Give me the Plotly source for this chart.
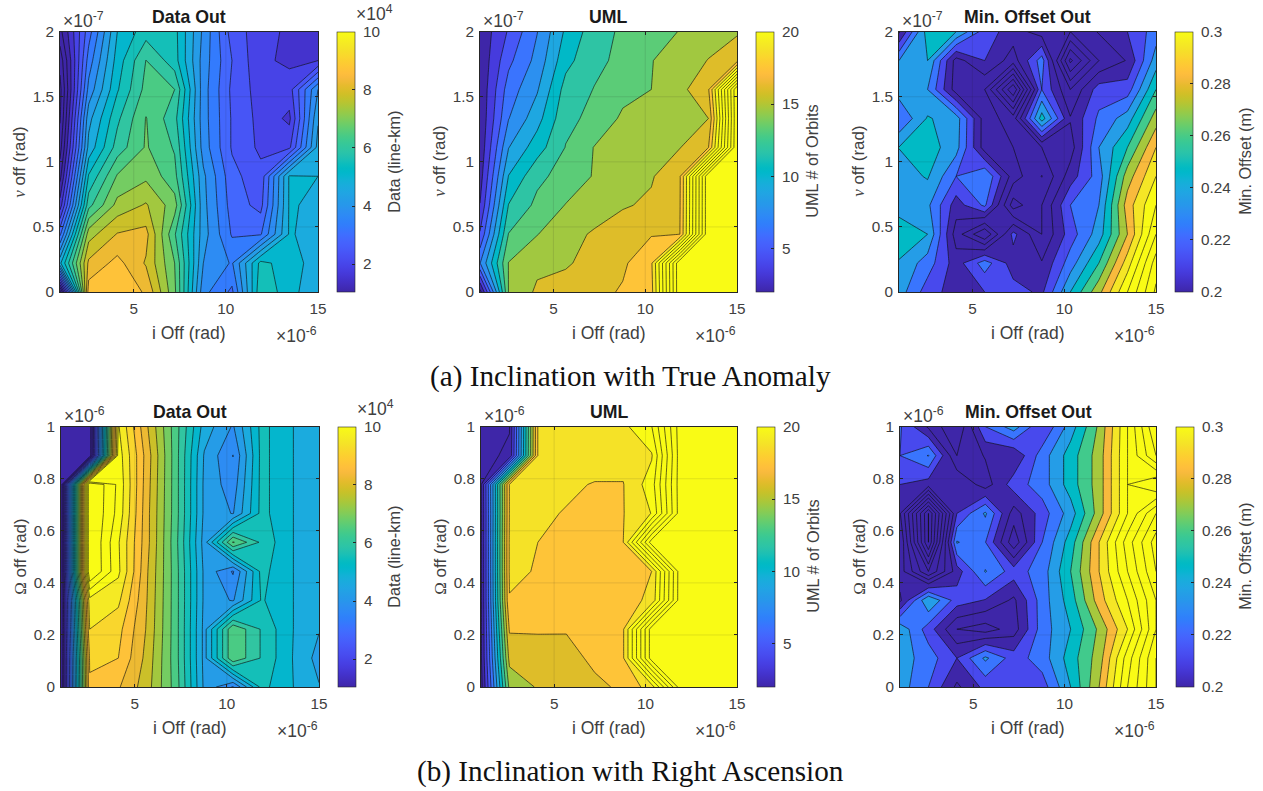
import plotly.graph_objects as go

# ---------- data (axes in the multiples shown on the chart) ----------
I_OFF = [1, 2.556, 4.111, 5.667, 7.222, 8.778, 10.333, 11.889, 13.444, 15]
NU_OFF = [0, 0.222, 0.444, 0.667, 0.889, 1.111, 1.333, 1.556, 1.778, 2]
RAAN_OFF = [0, 0.111, 0.222, 0.333, 0.444, 0.556, 0.667, 0.778, 0.889, 1]

DATA_NU = [
    [0.3, 8.95, 9.0, 8.65, 7.0, 3.9, 3.2, 5.9, 5.3, 4.7],
    [5.0, 8.35, 8.85, 8.2, 6.9, 4.2, 3.7, 5.7, 5.3, 4.9],
    [3.2, 7.6, 8.28, 8.4, 6.5, 4.4, 3.25, 3.25, 5.15, 4.9],
    [1.7, 6.3, 7.5, 7.85, 7.1, 4.35, 3.1, 2.7, 5.15, 5.0],
    [0.9, 5.6, 6.95, 7.25, 6.6, 4.3, 3.0, 2.55, 5.15, 5.1],
    [0.4, 4.8, 6.2, 6.95, 6.4, 4.0, 2.8, 2.3, 2.3, 4.8],
    [0.1, 4.5, 5.9, 6.92, 6.15, 3.95, 2.8, 2.25, 1.85, 4.6],
    [0.0, 3.9, 5.5, 6.6, 6.45, 3.95, 2.75, 2.2, 2.2, 4.2],
    [0.3, 3.5, 5.3, 6.46, 5.75, 4.0, 2.85, 2.05, 1.85, 1.95],
    [0.9, 3.1, 5.1, 5.8, 5.7, 4.1, 2.65, 2.15, 1.85, 1.85],
]
UML_NU = [
    [1.5, 14.7, 16.3, 16.6, 17.0, 17.6, 18.3, 30, 30, 30],
    [7.6, 14.7, 15.7, 15.9, 16.5, 17.2, 18.6, 30, 30, 30],
    [5.0, 13.3, 14.6, 15.6, 16.2, 16.9, 17.35, 17.45, 30, 30],
    [3.5, 11.9, 13.6, 14.7, 15.4, 15.9, 16.3, 17.35, 30, 30],
    [2.8, 10.5, 12.9, 13.8, 14.75, 15.3, 15.9, 17.3, 30, 30],
    [2.4, 9.0, 11.2, 13.3, 14.7, 15.0, 15.6, 16.0, 17.4, 30],
    [2.3, 7.6, 9.9, 12.9, 13.6, 14.9, 15.2, 15.9, 16.05, 30],
    [2.3, 6.9, 8.9, 12.4, 13.3, 14.2, 14.65, 15.6, 17.3, 30],
    [2.3, 5.9, 8.1, 11.4, 12.9, 13.6, 14.6, 15.3, 16.1, 16.9],
    [2.4, 5.0, 7.6, 10.7, 12.6, 13.5, 14.1, 14.7, 15.4, 15.9],
]
OFFSET_NU = [
    [.2413, .2177, .2059, .2118, .2165, .2094, .2472, .2791, .318, .3558],
    [.246, .2295, .2059, .2295, .2059, .201, .2295, .259, .3003, .3475],
    [.2555, .2472, .1941, .165, .2153, .1882, .2177, .2413, .2826, .3298],
    [.2413, .238, .2059, .226, .1705, .1882, .2236, .2354, .2885, .318],
    [.2413, .2484, .2236, .2354, .1941, .176, .2059, .2295, .2767, .3062],
    [.2475, .2531, .24, .1941, .1882, .1882, .1941, .2354, .259, .2944],
    [.224, .2484, .2413, .1941, .1823, .2531, .201, .226, .2413, .2767],
    [.2413, .2354, .1941, .1882, .13, .2236, .1882, .2177, .2177, .259],
    [.2354, .2472, .195, .2118, .1941, .2295, .15, .1882, .201, .2413],
    [.198, .2531, .2472, .2177, .2059, .1941, .1882, .201, .2118, .2295],
]
DATA_RAAN = [
    [.2, 9.1, 8.75, 8.0, 6.7, 4.55, 3.7, 5.7, 5.15, 4.68],
    [.2, 9.2, 9.15, 8.1, 6.65, 4.5, 6.85, 5.95, 5.15, 4.48],
    [.2, 9.6, 9.3, 8.2, 6.65, 4.5, 6.85, 5.95, 5.15, 4.68],
    [.2, 9.9, 9.7, 8.25, 6.65, 4.55, 4.15, 5.6, 5.15, 4.68],
    [.2, 11.5, 10.15, 8.3, 6.65, 4.55, 3.7, 5.7, 5.15, 4.68],
    [.2, 11.5, 10.1, 8.4, 6.6, 4.45, 6.95, 5.9, 5.15, 4.68],
    [.2, 11.5, 10.35, 8.4, 6.65, 4.55, 4.17, 5.7, 5.15, 4.68],
    [.2, 11.5, 10.4, 8.45, 6.65, 4.55, 3.95, 5.7, 5.15, 4.68],
    [.2, .2, 10.3, 8.5, 6.65, 4.6, 3.74, 5.7, 5.15, 4.68],
    [.2, .2, 10.1, 8.3, 6.65, 4.9, 4.15, 5.7, 5.15, 4.68],
]
UML_RAAN = [
    [1.5, 15.0, 16.2, 16.4, 17.0, 17.8, 19.5, 28, 28, 28],
    [1.8, 16.5, 16.5, 16.7, 17.9, 18.7, 28, 28, 28, 28],
    [1.8, 17.6, 17.65, 17.6, 18.0, 18.7, 28, 28, 28, 28],
    [1.8, 18.8, 18.2, 18.1, 18.0, 18.2, 19.2, 28, 28, 28],
    [1.8, 19.0, 18.8, 18.1, 18.2, 18.2, 18.85, 28, 28, 28],
    [1.8, 19.0, 18.85, 18.2, 18.2, 18.85, 28, 28, 28, 28],
    [1.8, 18.9, 19.0, 18.8, 18.2, 18.8, 20.3, 28, 28, 28],
    [1.9, 18.9, 19.0, 19.0, 18.8, 18.8, 21.0, 28, 28, 28],
    [1.8, 2.2, 18.9, 19.2, 19.3, 19.3, 20.1, 28, 28, 28],
    [1.8, 2.0, 18.9, 19.0, 19.1, 19.9, 21.6, 28, 28, 28],
]
OFFSET_RAAN = [
    [.2413, .2236, .1976, .2153, .2177, .2177, .2472, .2826, .3298, .3652],
    [.2413, .2295, .2118, .2378, .2177, .2295, .2531, .2767, .3239, .3652],
    [.2437, .2177, .1882, .1823, .1941, .2295, .2472, .2732, .3062, .3534],
    [.1976, .2472, .2177, .211, .1976, .2295, .2531, .2885, .318, .3534],
    [.2059, .1646, .2059, .2362, .2177, .2295, .259, .2944, .3298, .3652],
    [.2118, .1174, .2365, .224, .18, .2236, .2531, .2944, .3357, .3711],
    [.201, .1174, .2118, .2372, .1941, .2177, .2413, .2767, .318, .3534],
    [.2118, .2059, .2118, .1941, .2177, .2295, .2531, .2767, .318, .3062],
    [.2236, .236, .1882, .201, .201, .2295, .2531, .2767, .318, .3534],
    [.225, .198, .1764, .2236, .2413, .2118, .2413, .2732, .318, .3652],
]
X_TICKS = [5, 10, 15]
NU_TICKS = [0, 0.5, 1, 1.5, 2]
NU_TICK_TEXT = ["0", "0.5", "1", "1.5", "2"]
RAAN_TICKS = [0, 0.2, 0.4, 0.6, 0.8, 1]
RAAN_TICK_TEXT = ["0", "0.2", "0.4", "0.6", "0.8", "1"]
DATA_CB_TICKS = [2, 4, 6, 8, 10]
UML_CB_TICKS = [5, 10, 15, 20]
OFFSET_CB_TICKS = [0.2, 0.22, 0.24, 0.26, 0.28, 0.3]
OFFSET_CB_TEXT = ["0.2", "0.22", "0.24", "0.26", "0.28", "0.3"]
CAPTIONS = ["(a) Inclination with True Anomaly", "(b) Inclination with Right Ascension"]

# ---------- styling ----------
PARULA = [
 [.2422,.1504,.6603],[.2504,.1650,.7076],[.2578,.1818,.7511],[.2647,.1978,.7952],[.2706,.2147,.8364],
 [.2751,.2342,.8710],[.2783,.2559,.8991],[.2803,.2782,.9221],[.2813,.3006,.9414],[.2810,.3228,.9579],
 [.2795,.3447,.9717],[.2760,.3667,.9829],[.2699,.3892,.9906],[.2602,.4123,.9952],[.2440,.4358,.9988],
 [.2206,.4603,.9973],[.1963,.4847,.9892],[.1834,.5074,.9798],[.1786,.5289,.9682],[.1764,.5499,.9520],
 [.1687,.5703,.9359],[.1540,.5902,.9218],[.1460,.6091,.9079],[.1380,.6276,.8973],[.1248,.6459,.8883],
 [.1113,.6635,.8763],[.0952,.6798,.8598],[.0689,.6948,.8394],[.0297,.7082,.8163],[.0036,.7203,.7917],
 [.0067,.7312,.7660],[.0433,.7411,.7394],[.0964,.7500,.7120],[.1408,.7584,.6842],[.1717,.7670,.6554],
 [.1938,.7758,.6251],[.2161,.7843,.5923],[.2470,.7918,.5567],[.2906,.7973,.5188],[.3406,.8008,.4789],
 [.3909,.8029,.4354],[.4456,.8024,.3909],[.5044,.7993,.3480],[.5616,.7942,.3045],[.6174,.7876,.2612],
 [.6720,.7793,.2227],[.7242,.7698,.1910],[.7738,.7598,.1646],[.8203,.7498,.1535],[.8634,.7406,.1596],
 [.9035,.7330,.1774],[.9393,.7288,.2100],[.9728,.7298,.2394],[.9956,.7434,.2371],[.9970,.7659,.2199],
 [.9952,.7893,.2028],[.9892,.8136,.1885],[.9786,.8386,.1766],[.9676,.8639,.1643],[.9610,.8890,.1537],
 [.9597,.9135,.1423],[.9628,.9373,.1265],[.9691,.9606,.1064],[.9769,.9839,.0805]]


def parula(t):
    t = min(1.0, max(0.0, t)) * (len(PARULA) - 1)
    i = min(int(t), len(PARULA) - 2)
    f = t - i
    c = [PARULA[i][n] * (1 - f) + PARULA[i + 1][n] * f for n in range(3)]
    return "rgb(%d,%d,%d)" % tuple(round(v * 255) for v in c)


PARULA_SCALE = [[i / 63, parula(i / 63)] for i in range(64)]
W, H = 1263, 791
px = lambda v: v / W
py = lambda v: 1 - v / H
TEXT = "#404040"
SANS = "Liberation Sans"
SERIF = "Liberation Serif"

fig = go.Figure()
annotations, shapes = [], []
layout = {}


def note(x, y, text, size, xanchor="center", color=TEXT, angle=0, family=SANS):
    annotations.append(dict(xref="paper", yref="paper", x=px(x), y=py(y), text=text, showarrow=False,
                            xanchor=xanchor, yanchor="middle", textangle=angle,
                            font=dict(family=family, size=size, color=color)))


def panel(n, z, ys, box, cbx, title, ylab, yticks, ytext, ymult, clim, base, step, lo, hi,
          cbticks, cbtext, cblab, cbmult):
    x0, x1, y0, y1 = box
    levels = [base + k * step for k in range(lo, hi + 1)]
    nc = len(levels)
    colors = [parula((base + (lo - 1) * step - clim[0]) / (clim[1] - clim[0]))]
    colors += [parula((v - clim[0]) / (clim[1] - clim[0])) for v in levels]
    scale = [[k / nc, colors[k]] for k in range(nc + 1)]
    suffix = "" if n == 1 else str(n)
    xa, ya = "x" + suffix, "y" + suffix
    fig.add_trace(go.Contour(
        x=I_OFF, y=ys, z=z, xaxis=xa, yaxis=ya, autocontour=False, colorscale=scale, showscale=False,
        contours=dict(start=levels[0], end=levels[-1], size=step, coloring="fill", showlines=True),
        line=dict(color="rgba(15,15,15,0.8)", width=0.8, smoothing=0), hoverinfo="skip"))
    fig.add_trace(go.Scatter(
        x=[I_OFF[0], I_OFF[0]], y=[ys[0], ys[0]], xaxis=xa, yaxis=ya, mode="markers", showlegend=False,
        hoverinfo="skip", opacity=0,
        marker=dict(size=1, color=list(clim), cmin=clim[0], cmax=clim[1], colorscale=PARULA_SCALE, showscale=True,
                    colorbar=dict(x=px(cbx), xanchor="left", y=py(y0), yanchor="top", len=y1 - y0, lenmode="pixels",
                                  thickness=17.5, thicknessmode="pixels", xpad=0, ypad=0, ticks="inside", ticklen=3,
                                  tickcolor="#262626", tickwidth=0.6, outlinecolor="#262626", outlinewidth=0.6,
                                  tickvals=cbticks, ticktext=["\u00a0" + t for t in cbtext],
                                  tickfont=dict(family=SANS, size=15.3, color=TEXT)))))
    common = dict(showgrid=False, zeroline=False, showline=True, mirror="ticks", linecolor="#262626", linewidth=0.6,
                  ticks="inside", ticklen=3, tickcolor="#262626", tickwidth=0.6, layer="above traces",
                  tickfont=dict(family=SANS, size=15.3, color=TEXT))
    layout["xaxis" + suffix] = dict(common, domain=[px(x0), px(x1)], range=[I_OFF[0], I_OFF[-1]], anchor=ya,
                                    tickvals=X_TICKS, ticktext=[str(t) for t in X_TICKS], ticklabelstandoff=3)
    layout["yaxis" + suffix] = dict(common, domain=[py(y1), py(y0)], range=[ys[0], ys[-1]], anchor=xa,
                                    tickvals=yticks, ticktext=ytext, ticklabelstandoff=2)
    for t in X_TICKS[:-1]:
        shapes.append(dict(type="line", xref=xa, yref=ya + " domain", x0=t, x1=t, y0=0, y1=1, layer="above",
                           line=dict(color="rgba(38,38,38,0.15)", width=0.8)))
    for t in yticks[1:-1]:
        shapes.append(dict(type="line", xref=xa + " domain", yref=ya, x0=0, x1=1, y0=t, y1=t, layer="above",
                           line=dict(color="rgba(38,38,38,0.15)", width=0.8)))
    note((x0 + x1) / 2, y0 - 14.5, "<b>%s</b>" % title, 17.7, color="#1a1a1a")
    note((x0 + x1) / 2, y1 + 41, "i Off (rad)", 17.5)
    note(x0 - 40, (y0 + y1) / 2, ylab, 17, angle=-90)
    note(x0 + 1, y0 - 11.5, ymult, 17.5, xanchor="left")
    note(x1 + 1, y1 + 43, "×10<sup>-6</sup>", 17.5, xanchor="right")
    if cbmult:
        note(cbx + 17, y0 - 19, cbmult, 17.5, xanchor="left")
    note(cblabx[n], (y0 + y1) / 2, cblab, 16.3, angle=-90)


NU_LABEL = "<span style=\"font-family:'Liberation Serif'\"><i>ν</i></span> off (rad)"
RAAN_LABEL = "<span style=\"font-family:'Liberation Serif'\">Ω</span> off (rad)"
cblabx = {1: 394, 2: 812, 3: 1245, 4: 394, 5: 813, 6: 1245}
ROW1, ROW2 = (31.7, 292), (426.7, 687)
D = dict(clim=(1.05, 10), base=1.05, step=0.45, lo=-2, hi=22, cbticks=DATA_CB_TICKS,
         cbtext=[str(t) for t in DATA_CB_TICKS], cblab="Data (line-km)", cbmult="×10<sup>4</sup>")
U = dict(clim=(2.05, 20), base=2.05, step=1.4, lo=-1, hi=20, cbticks=UML_CB_TICKS,
         cbtext=[str(t) for t in UML_CB_TICKS], cblab="UML # of Orbits", cbmult=None)
O = dict(clim=(0.2, 0.3), base=0.2, step=0.0118, lo=-8, hi=16, cbticks=OFFSET_CB_TICKS,
         cbtext=OFFSET_CB_TEXT, cblab="Min. Offset (m)", cbmult=None)

panel(1, DATA_NU, NU_OFF, (60, 318, *ROW1), 337, "Data Out", NU_LABEL, NU_TICKS, NU_TICK_TEXT, "×10<sup>-7</sup>", **D)
panel(2, UML_NU, NU_OFF, (480, 737, *ROW1), 755.7, "UML", NU_LABEL, NU_TICKS, NU_TICK_TEXT, "×10<sup>-7</sup>", **U)
panel(3, OFFSET_NU, NU_OFF, (899, 1156, *ROW1), 1174.7, "Min. Offset Out", NU_LABEL, NU_TICKS, NU_TICK_TEXT, "×10<sup>-7</sup>", **O)
panel(4, DATA_RAAN, RAAN_OFF, (61, 319, *ROW2), 337.5, "Data Out", RAAN_LABEL, RAAN_TICKS, RAAN_TICK_TEXT, "×10<sup>-6</sup>", **D)
panel(5, UML_RAAN, RAAN_OFF, (481, 737, *ROW2), 756.7, "UML", RAAN_LABEL, RAAN_TICKS, RAAN_TICK_TEXT, "×10<sup>-6</sup>", **U)
panel(6, OFFSET_RAAN, RAAN_OFF, (900, 1156, *ROW2), 1175.7, "Min. Offset Out", RAAN_LABEL, RAAN_TICKS, RAAN_TICK_TEXT, "×10<sup>-6</sup>", **O)

note(630, 376, CAPTIONS[0], 29.2, color="#111111", family=SERIF)
note(630, 771, CAPTIONS[1], 29.2, color="#111111", family=SERIF)

fig.update_layout(width=W, height=H, autosize=False, margin=dict(l=0, r=0, t=0, b=0, autoexpand=False),
                  paper_bgcolor="white", plot_bgcolor="white", showlegend=False,
                  annotations=annotations, shapes=shapes, **layout)
fig.write_html("out.html", config={"displayModeBar": False}, post_script="document.body.style.margin='0';")
